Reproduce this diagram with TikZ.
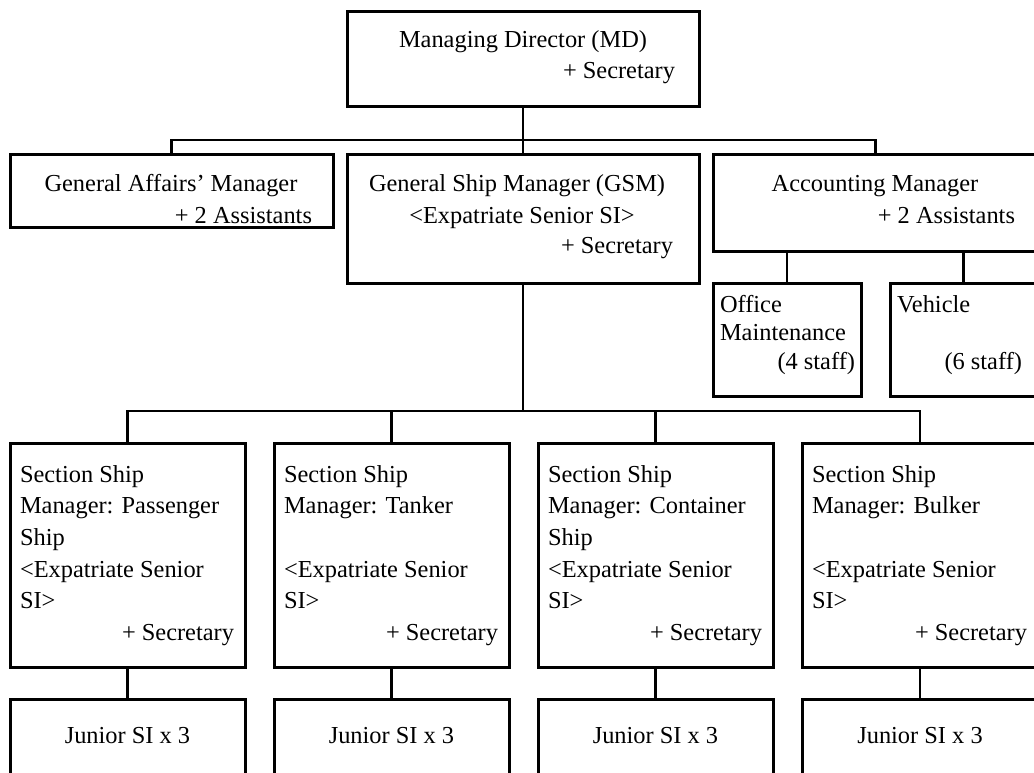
\documentclass[tikz,border=0pt]{standalone}
\usepackage{fontspec}
\setmainfont{Liberation Serif}
\tikzset{
  box/.style={draw, line width=3pt, rectangle, inner sep=0pt, outer sep=0pt},
  link/.style={line width=2.5pt},
  txt/.style={inner sep=0pt, outer sep=0pt, font=\fontsize{24.4}{31.6}\selectfont},
  tl/.style={txt, anchor=base west},
  tc/.style={txt, anchor=base},
  tr/.style={txt, anchor=base east},
}
% box: name, left, top, right, bottom (y grows downwards)
\newcommand\orgbox[5]{%
  \node[box, anchor=north west, minimum width={(#4-#2)*1pt},
        minimum height={(#5-#3)*1pt}] (#1) at (#2,#3) {};}
\begin{document}
\begin{tikzpicture}[x=1pt, y=-1pt]
\useasboundingbox (0,0) rectangle (1034,773);
\clip (0,0) rectangle (1034,773);

% boxes
\orgbox{md}{347}{12}{699}{107}
\orgbox{ga}{10}{155}{333}{227}
\orgbox{gsm}{347}{155}{699}{283}
\orgbox{acc}{713}{155}{1038}{251}
\orgbox{off}{713}{283}{861}{396}
\orgbox{veh}{890}{283}{1037}{396}
\orgbox{s1}{10}{443}{245}{667}
\orgbox{s2}{274}{443}{509}{667}
\orgbox{s3}{538}{443}{773}{667}
\orgbox{s4}{802}{443}{1038}{667}
\orgbox{j1}{10}{699}{245}{800}
\orgbox{j2}{274}{699}{509}{800}
\orgbox{j3}{538}{699}{773}{800}
\orgbox{j4}{802}{699}{1038}{800}

% connectors
\coordinate (bus1) at (523,140);
\draw[link] (md.south) -- (bus1);
\draw[link] (ga.north) |- (bus1) -| (acc.north);
\draw[link] (bus1) -- (gsm.north);
\draw[link] (off.north) -- (off.north |- acc.south);
\draw[link] (veh.north) -- (veh.north |- acc.south);
\coordinate (bus2) at (523,411);
\draw[link] (gsm.south) -- (bus2);
\draw[link] (s1.north) |- (bus2) -| (s4.north);
\draw[link] (s2.north) -- (s2.north |- bus2);
\draw[link] (s3.north) -- (s3.north |- bus2);
\foreach \i in {1,...,4} {\draw[link] (s\i.south) -- (j\i.north);}

% texts
\node[tc] (md-a) at (523,48) {Managing Director (MD)};
\node[tr] (md-b) at (675,79) {+ Secretary};

\node[tc] (ga-a) at (171,192) {General Affairs’ Manager};
\node[tr] (ga-b) at (312,223) {+ 2 Assistants};

\node[tl] (gsm-a) at (369,192) {General Ship Manager (GSM)};
\node[tc] (gsm-b) at (522,223) {<Expatriate Senior SI>};
\node[tr] (gsm-c) at (673,253) {+ Secretary};

\node[tc] (acc-a) at (875,192) {Accounting Manager};
\node[tr] (acc-b) at (1015,223) {+ 2 Assistants};

\node[tl] (off-a) at (720,312) {Office};
\node[tl] (off-b) at (720,340) {Maintenance};
\node[tr] (off-c) at (855,369) {(4 staff)};

\node[tl] (veh-a) at (897,312) {Vehicle};
\node[tr] (veh-b) at (1022,369) {(6 staff)};

% section ship managers
\foreach \n/\l/\r/\kind/\third in {
    s1/20/234/Passenger/Ship,
    s2/284/498/Tanker/{},
    s3/548/762/Container/Ship,
    s4/812/1027/Bulker/{}} {
  \node[tl] (\n-a) at (\l,482) {Section Ship};
  \node[tl] (\n-b) at (\l,513) {Manager: \kind};
  \node[tl] (\n-c) at (\l,545) {\third};
  \node[tl] (\n-d) at (\l,577) {<Expatriate Senior};
  \node[tl] (\n-e) at (\l,608) {SI>};
  \node[tr] (\n-f) at (\r,640) {+ Secretary};
}

% junior inspectors
\foreach \i in {1,...,4} {
  \node[tc] (j\i-a) at ([yshift=-44pt]j\i.north) {Junior SI x 3};
}
\end{tikzpicture}
\end{document}
